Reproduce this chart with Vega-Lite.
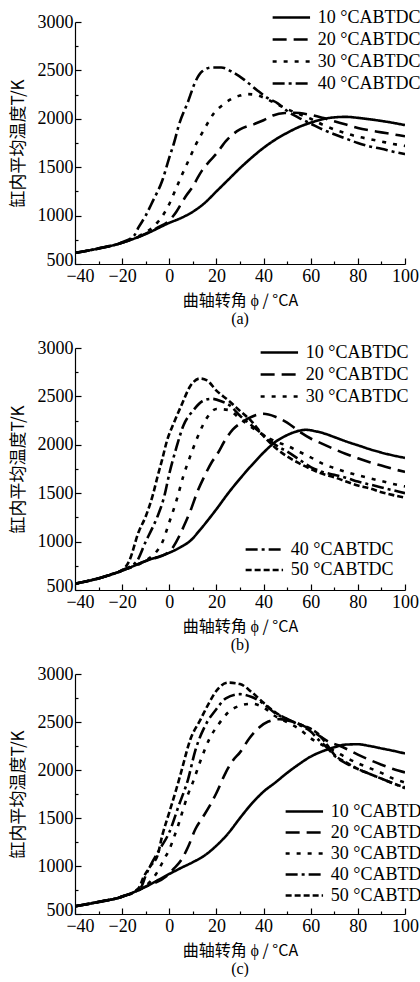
{
"$schema": "https://vega.github.io/schema/vega-lite/v6.json",
"padding": {"left": 9, "top": 6, "right": 0, "bottom": 0},
"config": {
  "view": {"stroke": null},
  "axis": {"grid": false, "domainColor": "black", "tickColor": "black", "labelColor": "black", "titleColor": "black", "domainWidth": 1.2, "tickWidth": 1.2,
    "labelFont": "Liberation Serif", "labelFontSize": 18, "titleFont": "Noto Sans CJK SC", "titleFontSize": 17, "titleFontWeight": "normal", "labelFlush": false, "labelOverlap": false},
  "axisX": {"labelOffset": {"condition": {"test": "datum.value == -40", "value": 5}, "value": 0}, "titleFontSize": 16, "titlePadding": 4},
  "axisY": {"labelOffset": {"condition": {"test": "datum.value == 500", "value": -4}, "value": 0}},
  "legend": {"orient": "none", "title": null, "symbolType": "M-3,0H1", "symbolSize": 350, "symbolStrokeWidth": 2.6, "symbolStrokeColor": "black",
    "labelFont": "Liberation Serif", "labelFontSize": 18, "labelColor": "black", "rowPadding": 2, "labelOffset": 6, "padding": 0, "labelLimit": 300},
  "title": {"font": "Liberation Serif", "fontSize": 16, "fontWeight": "normal", "color": "black", "orient": "bottom", "offset": 3}
},
"datasets": {"d": [
{"p":"a","c":"10°CABTDC","x":-40,"T":615},{"p":"a","c":"10°CABTDC","x":-30,"T":660},{"p":"a","c":"10°CABTDC","x":-20,"T":720},{"p":"a","c":"10°CABTDC","x":-10,"T":810},{"p":"a","c":"10°CABTDC","x":0,"T":925},{"p":"a","c":"10°CABTDC","x":5,"T":975},{"p":"a","c":"10°CABTDC","x":10,"T":1040},{"p":"a","c":"10°CABTDC","x":15,"T":1130},{"p":"a","c":"10°CABTDC","x":20,"T":1250},{"p":"a","c":"10°CABTDC","x":25,"T":1370},{"p":"a","c":"10°CABTDC","x":30,"T":1490},{"p":"a","c":"10°CABTDC","x":35,"T":1600},{"p":"a","c":"10°CABTDC","x":40,"T":1700},{"p":"a","c":"10°CABTDC","x":45,"T":1785},{"p":"a","c":"10°CABTDC","x":50,"T":1855},{"p":"a","c":"10°CABTDC","x":55,"T":1915},{"p":"a","c":"10°CABTDC","x":60,"T":1960},{"p":"a","c":"10°CABTDC","x":65,"T":1995},{"p":"a","c":"10°CABTDC","x":70,"T":2015},{"p":"a","c":"10°CABTDC","x":75,"T":2020},{"p":"a","c":"10°CABTDC","x":80,"T":2010},{"p":"a","c":"10°CABTDC","x":85,"T":1995},{"p":"a","c":"10°CABTDC","x":90,"T":1978},{"p":"a","c":"10°CABTDC","x":95,"T":1958},{"p":"a","c":"10°CABTDC","x":100,"T":1935},
{"p":"a","c":"20°CABTDC","x":-40,"T":615},{"p":"a","c":"20°CABTDC","x":-30,"T":660},{"p":"a","c":"20°CABTDC","x":-20,"T":720},{"p":"a","c":"20°CABTDC","x":-10,"T":812},{"p":"a","c":"20°CABTDC","x":-5,"T":875},{"p":"a","c":"20°CABTDC","x":0,"T":950},{"p":"a","c":"20°CABTDC","x":3,"T":1040},{"p":"a","c":"20°CABTDC","x":5,"T":1120},{"p":"a","c":"20°CABTDC","x":7,"T":1200},{"p":"a","c":"20°CABTDC","x":10,"T":1300},{"p":"a","c":"20°CABTDC","x":12,"T":1390},{"p":"a","c":"20°CABTDC","x":14,"T":1470},{"p":"a","c":"20°CABTDC","x":17,"T":1560},{"p":"a","c":"20°CABTDC","x":20,"T":1640},{"p":"a","c":"20°CABTDC","x":24,"T":1770},{"p":"a","c":"20°CABTDC","x":27,"T":1840},{"p":"a","c":"20°CABTDC","x":30,"T":1890},{"p":"a","c":"20°CABTDC","x":36,"T":1945},{"p":"a","c":"20°CABTDC","x":40,"T":1985},{"p":"a","c":"20°CABTDC","x":44,"T":2035},{"p":"a","c":"20°CABTDC","x":49,"T":2060},{"p":"a","c":"20°CABTDC","x":53,"T":2062},{"p":"a","c":"20°CABTDC","x":59,"T":2045},{"p":"a","c":"20°CABTDC","x":65,"T":2010},{"p":"a","c":"20°CABTDC","x":70,"T":1975},{"p":"a","c":"20°CABTDC","x":75,"T":1940},{"p":"a","c":"20°CABTDC","x":80,"T":1905},{"p":"a","c":"20°CABTDC","x":85,"T":1880},{"p":"a","c":"20°CABTDC","x":90,"T":1860},{"p":"a","c":"20°CABTDC","x":95,"T":1840},{"p":"a","c":"20°CABTDC","x":100,"T":1820},
{"p":"a","c":"30°CABTDC","x":-40,"T":615},{"p":"a","c":"30°CABTDC","x":-30,"T":660},{"p":"a","c":"30°CABTDC","x":-20,"T":720},{"p":"a","c":"30°CABTDC","x":-12,"T":800},{"p":"a","c":"30°CABTDC","x":-8,"T":860},{"p":"a","c":"30°CABTDC","x":-5,"T":930},{"p":"a","c":"30°CABTDC","x":-2,"T":1030},{"p":"a","c":"30°CABTDC","x":0,"T":1120},{"p":"a","c":"30°CABTDC","x":2,"T":1230},{"p":"a","c":"30°CABTDC","x":5,"T":1400},{"p":"a","c":"30°CABTDC","x":8,"T":1560},{"p":"a","c":"30°CABTDC","x":11,"T":1720},{"p":"a","c":"30°CABTDC","x":15,"T":1900},{"p":"a","c":"30°CABTDC","x":19,"T":2060},{"p":"a","c":"30°CABTDC","x":23,"T":2150},{"p":"a","c":"30°CABTDC","x":26,"T":2200},{"p":"a","c":"30°CABTDC","x":30,"T":2240},{"p":"a","c":"30°CABTDC","x":33,"T":2255},{"p":"a","c":"30°CABTDC","x":36,"T":2250},{"p":"a","c":"30°CABTDC","x":40,"T":2220},{"p":"a","c":"30°CABTDC","x":45,"T":2160},{"p":"a","c":"30°CABTDC","x":50,"T":2100},{"p":"a","c":"30°CABTDC","x":55,"T":2050},{"p":"a","c":"30°CABTDC","x":60,"T":2000},{"p":"a","c":"30°CABTDC","x":65,"T":1940},{"p":"a","c":"30°CABTDC","x":70,"T":1890},{"p":"a","c":"30°CABTDC","x":75,"T":1850},{"p":"a","c":"30°CABTDC","x":80,"T":1815},{"p":"a","c":"30°CABTDC","x":85,"T":1790},{"p":"a","c":"30°CABTDC","x":90,"T":1765},{"p":"a","c":"30°CABTDC","x":95,"T":1740},{"p":"a","c":"30°CABTDC","x":100,"T":1720},
{"p":"a","c":"40°CABTDC","x":-40,"T":615},{"p":"a","c":"40°CABTDC","x":-30,"T":662},{"p":"a","c":"40°CABTDC","x":-20,"T":725},{"p":"a","c":"40°CABTDC","x":-15,"T":790},{"p":"a","c":"40°CABTDC","x":-13,"T":880},{"p":"a","c":"40°CABTDC","x":-10,"T":1000},{"p":"a","c":"40°CABTDC","x":-7,"T":1150},{"p":"a","c":"40°CABTDC","x":-3,"T":1360},{"p":"a","c":"40°CABTDC","x":0,"T":1600},{"p":"a","c":"40°CABTDC","x":2,"T":1750},{"p":"a","c":"40°CABTDC","x":4,"T":1930},{"p":"a","c":"40°CABTDC","x":8,"T":2180},{"p":"a","c":"40°CABTDC","x":11,"T":2380},{"p":"a","c":"40°CABTDC","x":14,"T":2490},{"p":"a","c":"40°CABTDC","x":18,"T":2530},{"p":"a","c":"40°CABTDC","x":22,"T":2530},{"p":"a","c":"40°CABTDC","x":27,"T":2480},{"p":"a","c":"40°CABTDC","x":32,"T":2400},{"p":"a","c":"40°CABTDC","x":37,"T":2300},{"p":"a","c":"40°CABTDC","x":42,"T":2210},{"p":"a","c":"40°CABTDC","x":46,"T":2160},{"p":"a","c":"40°CABTDC","x":50,"T":2080},{"p":"a","c":"40°CABTDC","x":55,"T":2010},{"p":"a","c":"40°CABTDC","x":60,"T":1950},{"p":"a","c":"40°CABTDC","x":65,"T":1890},{"p":"a","c":"40°CABTDC","x":70,"T":1840},{"p":"a","c":"40°CABTDC","x":75,"T":1795},{"p":"a","c":"40°CABTDC","x":80,"T":1750},{"p":"a","c":"40°CABTDC","x":85,"T":1715},{"p":"a","c":"40°CABTDC","x":90,"T":1690},{"p":"a","c":"40°CABTDC","x":95,"T":1660},{"p":"a","c":"40°CABTDC","x":100,"T":1635},

{"p":"b","c":"10°CABTDC","x":-40,"T":565},{"p":"b","c":"10°CABTDC","x":-30,"T":620},{"p":"b","c":"10°CABTDC","x":-20,"T":700},{"p":"b","c":"10°CABTDC","x":-10,"T":800},{"p":"b","c":"10°CABTDC","x":0,"T":885},{"p":"b","c":"10°CABTDC","x":5,"T":945},{"p":"b","c":"10°CABTDC","x":9,"T":1010},{"p":"b","c":"10°CABTDC","x":13,"T":1120},{"p":"b","c":"10°CABTDC","x":17,"T":1240},{"p":"b","c":"10°CABTDC","x":20,"T":1335},{"p":"b","c":"10°CABTDC","x":25,"T":1500},{"p":"b","c":"10°CABTDC","x":30,"T":1650},{"p":"b","c":"10°CABTDC","x":35,"T":1790},{"p":"b","c":"10°CABTDC","x":40,"T":1920},{"p":"b","c":"10°CABTDC","x":45,"T":2030},{"p":"b","c":"10°CABTDC","x":50,"T":2100},{"p":"b","c":"10°CABTDC","x":55,"T":2145},{"p":"b","c":"10°CABTDC","x":58,"T":2155},{"p":"b","c":"10°CABTDC","x":62,"T":2140},{"p":"b","c":"10°CABTDC","x":66,"T":2115},{"p":"b","c":"10°CABTDC","x":70,"T":2080},{"p":"b","c":"10°CABTDC","x":75,"T":2035},{"p":"b","c":"10°CABTDC","x":80,"T":1995},{"p":"b","c":"10°CABTDC","x":85,"T":1955},{"p":"b","c":"10°CABTDC","x":90,"T":1920},{"p":"b","c":"10°CABTDC","x":95,"T":1890},{"p":"b","c":"10°CABTDC","x":100,"T":1865},
{"p":"b","c":"20°CABTDC","x":-40,"T":565},{"p":"b","c":"20°CABTDC","x":-30,"T":620},{"p":"b","c":"20°CABTDC","x":-20,"T":700},{"p":"b","c":"20°CABTDC","x":-10,"T":800},{"p":"b","c":"20°CABTDC","x":0,"T":895},{"p":"b","c":"20°CABTDC","x":3,"T":1000},{"p":"b","c":"20°CABTDC","x":6,"T":1150},{"p":"b","c":"20°CABTDC","x":9,"T":1320},{"p":"b","c":"20°CABTDC","x":12,"T":1520},{"p":"b","c":"20°CABTDC","x":15,"T":1680},{"p":"b","c":"20°CABTDC","x":18,"T":1820},{"p":"b","c":"20°CABTDC","x":20,"T":1890},{"p":"b","c":"20°CABTDC","x":24,"T":2060},{"p":"b","c":"20°CABTDC","x":27,"T":2160},{"p":"b","c":"20°CABTDC","x":30,"T":2220},{"p":"b","c":"20°CABTDC","x":35,"T":2290},{"p":"b","c":"20°CABTDC","x":40,"T":2320},{"p":"b","c":"20°CABTDC","x":45,"T":2290},{"p":"b","c":"20°CABTDC","x":50,"T":2230},{"p":"b","c":"20°CABTDC","x":55,"T":2140},{"p":"b","c":"20°CABTDC","x":60,"T":2065},{"p":"b","c":"20°CABTDC","x":65,"T":2010},{"p":"b","c":"20°CABTDC","x":70,"T":1955},{"p":"b","c":"20°CABTDC","x":75,"T":1905},{"p":"b","c":"20°CABTDC","x":80,"T":1860},{"p":"b","c":"20°CABTDC","x":85,"T":1820},{"p":"b","c":"20°CABTDC","x":90,"T":1785},{"p":"b","c":"20°CABTDC","x":95,"T":1750},{"p":"b","c":"20°CABTDC","x":100,"T":1720},
{"p":"b","c":"30°CABTDC","x":-40,"T":565},{"p":"b","c":"30°CABTDC","x":-30,"T":620},{"p":"b","c":"30°CABTDC","x":-20,"T":700},{"p":"b","c":"30°CABTDC","x":-10,"T":805},{"p":"b","c":"30°CABTDC","x":-6,"T":880},{"p":"b","c":"30°CABTDC","x":-3,"T":990},{"p":"b","c":"30°CABTDC","x":0,"T":1200},{"p":"b","c":"30°CABTDC","x":3,"T":1420},{"p":"b","c":"30°CABTDC","x":6,"T":1680},{"p":"b","c":"30°CABTDC","x":9,"T":1890},{"p":"b","c":"30°CABTDC","x":12,"T":2080},{"p":"b","c":"30°CABTDC","x":16,"T":2280},{"p":"b","c":"30°CABTDC","x":20,"T":2370},{"p":"b","c":"30°CABTDC","x":25,"T":2360},{"p":"b","c":"30°CABTDC","x":30,"T":2270},{"p":"b","c":"30°CABTDC","x":35,"T":2180},{"p":"b","c":"30°CABTDC","x":40,"T":2100},{"p":"b","c":"30°CABTDC","x":45,"T":2035},{"p":"b","c":"30°CABTDC","x":50,"T":1990},{"p":"b","c":"30°CABTDC","x":55,"T":1930},{"p":"b","c":"30°CABTDC","x":60,"T":1870},{"p":"b","c":"30°CABTDC","x":65,"T":1805},{"p":"b","c":"30°CABTDC","x":70,"T":1760},{"p":"b","c":"30°CABTDC","x":75,"T":1720},{"p":"b","c":"30°CABTDC","x":80,"T":1685},{"p":"b","c":"30°CABTDC","x":85,"T":1655},{"p":"b","c":"30°CABTDC","x":90,"T":1625},{"p":"b","c":"30°CABTDC","x":95,"T":1595},{"p":"b","c":"30°CABTDC","x":100,"T":1570},
{"p":"b","c":"40°CABTDC","x":-40,"T":565},{"p":"b","c":"40°CABTDC","x":-30,"T":622},{"p":"b","c":"40°CABTDC","x":-20,"T":705},{"p":"b","c":"40°CABTDC","x":-14,"T":790},{"p":"b","c":"40°CABTDC","x":-10,"T":1000},{"p":"b","c":"40°CABTDC","x":-7,"T":1150},{"p":"b","c":"40°CABTDC","x":-5,"T":1260},{"p":"b","c":"40°CABTDC","x":-2,"T":1480},{"p":"b","c":"40°CABTDC","x":0,"T":1700},{"p":"b","c":"40°CABTDC","x":3,"T":1970},{"p":"b","c":"40°CABTDC","x":6,"T":2200},{"p":"b","c":"40°CABTDC","x":10,"T":2350},{"p":"b","c":"40°CABTDC","x":14,"T":2450},{"p":"b","c":"40°CABTDC","x":18,"T":2475},{"p":"b","c":"40°CABTDC","x":22,"T":2450},{"p":"b","c":"40°CABTDC","x":26,"T":2400},{"p":"b","c":"40°CABTDC","x":30,"T":2300},{"p":"b","c":"40°CABTDC","x":35,"T":2200},{"p":"b","c":"40°CABTDC","x":40,"T":2100},{"p":"b","c":"40°CABTDC","x":45,"T":2000},{"p":"b","c":"40°CABTDC","x":50,"T":1930},{"p":"b","c":"40°CABTDC","x":55,"T":1850},{"p":"b","c":"40°CABTDC","x":60,"T":1770},{"p":"b","c":"40°CABTDC","x":65,"T":1720},{"p":"b","c":"40°CABTDC","x":70,"T":1690},{"p":"b","c":"40°CABTDC","x":75,"T":1660},{"p":"b","c":"40°CABTDC","x":80,"T":1620},{"p":"b","c":"40°CABTDC","x":85,"T":1590},{"p":"b","c":"40°CABTDC","x":90,"T":1560},{"p":"b","c":"40°CABTDC","x":95,"T":1530},{"p":"b","c":"40°CABTDC","x":100,"T":1500},
{"p":"b","c":"50°CABTDC","x":-40,"T":565},{"p":"b","c":"50°CABTDC","x":-30,"T":622},{"p":"b","c":"50°CABTDC","x":-25,"T":660},{"p":"b","c":"50°CABTDC","x":-20,"T":705},{"p":"b","c":"50°CABTDC","x":-17,"T":800},{"p":"b","c":"50°CABTDC","x":-13,"T":1100},{"p":"b","c":"50°CABTDC","x":-10,"T":1260},{"p":"b","c":"50°CABTDC","x":-7,"T":1480},{"p":"b","c":"50°CABTDC","x":-5,"T":1670},{"p":"b","c":"50°CABTDC","x":-3,"T":1850},{"p":"b","c":"50°CABTDC","x":-1,"T":2040},{"p":"b","c":"50°CABTDC","x":2,"T":2230},{"p":"b","c":"50°CABTDC","x":5,"T":2400},{"p":"b","c":"50°CABTDC","x":9,"T":2610},{"p":"b","c":"50°CABTDC","x":13,"T":2685},{"p":"b","c":"50°CABTDC","x":16,"T":2665},{"p":"b","c":"50°CABTDC","x":20,"T":2560},{"p":"b","c":"50°CABTDC","x":25,"T":2460},{"p":"b","c":"50°CABTDC","x":30,"T":2350},{"p":"b","c":"50°CABTDC","x":35,"T":2240},{"p":"b","c":"50°CABTDC","x":40,"T":2090},{"p":"b","c":"50°CABTDC","x":45,"T":1970},{"p":"b","c":"50°CABTDC","x":50,"T":1880},{"p":"b","c":"50°CABTDC","x":55,"T":1810},{"p":"b","c":"50°CABTDC","x":60,"T":1750},{"p":"b","c":"50°CABTDC","x":65,"T":1700},{"p":"b","c":"50°CABTDC","x":70,"T":1665},{"p":"b","c":"50°CABTDC","x":75,"T":1620},{"p":"b","c":"50°CABTDC","x":80,"T":1580},{"p":"b","c":"50°CABTDC","x":85,"T":1550},{"p":"b","c":"50°CABTDC","x":90,"T":1510},{"p":"b","c":"50°CABTDC","x":95,"T":1480},{"p":"b","c":"50°CABTDC","x":100,"T":1455},

{"p":"c","c":"10°CABTDC","x":-40,"T":580},{"p":"c","c":"10°CABTDC","x":-30,"T":625},{"p":"c","c":"10°CABTDC","x":-20,"T":680},{"p":"c","c":"10°CABTDC","x":-10,"T":785},{"p":"c","c":"10°CABTDC","x":0,"T":917},{"p":"c","c":"10°CABTDC","x":5,"T":980},{"p":"c","c":"10°CABTDC","x":10,"T":1040},{"p":"c","c":"10°CABTDC","x":15,"T":1110},{"p":"c","c":"10°CABTDC","x":20,"T":1212},{"p":"c","c":"10°CABTDC","x":25,"T":1340},{"p":"c","c":"10°CABTDC","x":30,"T":1500},{"p":"c","c":"10°CABTDC","x":35,"T":1650},{"p":"c","c":"10°CABTDC","x":40,"T":1775},{"p":"c","c":"10°CABTDC","x":45,"T":1870},{"p":"c","c":"10°CABTDC","x":50,"T":1970},{"p":"c","c":"10°CABTDC","x":55,"T":2060},{"p":"c","c":"10°CABTDC","x":60,"T":2140},{"p":"c","c":"10°CABTDC","x":65,"T":2195},{"p":"c","c":"10°CABTDC","x":70,"T":2236},{"p":"c","c":"10°CABTDC","x":75,"T":2265},{"p":"c","c":"10°CABTDC","x":80,"T":2268},{"p":"c","c":"10°CABTDC","x":85,"T":2250},{"p":"c","c":"10°CABTDC","x":90,"T":2225},{"p":"c","c":"10°CABTDC","x":95,"T":2200},{"p":"c","c":"10°CABTDC","x":100,"T":2172},
{"p":"c","c":"20°CABTDC","x":-40,"T":580},{"p":"c","c":"20°CABTDC","x":-30,"T":625},{"p":"c","c":"20°CABTDC","x":-20,"T":680},{"p":"c","c":"20°CABTDC","x":-10,"T":785},{"p":"c","c":"20°CABTDC","x":0,"T":920},{"p":"c","c":"20°CABTDC","x":2,"T":975},{"p":"c","c":"20°CABTDC","x":5,"T":1060},{"p":"c","c":"20°CABTDC","x":8,"T":1200},{"p":"c","c":"20°CABTDC","x":11,"T":1380},{"p":"c","c":"20°CABTDC","x":14,"T":1500},{"p":"c","c":"20°CABTDC","x":17,"T":1620},{"p":"c","c":"20°CABTDC","x":20,"T":1760},{"p":"c","c":"20°CABTDC","x":24,"T":1976},{"p":"c","c":"20°CABTDC","x":27,"T":2100},{"p":"c","c":"20°CABTDC","x":30,"T":2184},{"p":"c","c":"20°CABTDC","x":34,"T":2330},{"p":"c","c":"20°CABTDC","x":38,"T":2440},{"p":"c","c":"20°CABTDC","x":42,"T":2505},{"p":"c","c":"20°CABTDC","x":47,"T":2530},{"p":"c","c":"20°CABTDC","x":52,"T":2505},{"p":"c","c":"20°CABTDC","x":56,"T":2470},{"p":"c","c":"20°CABTDC","x":60,"T":2420},{"p":"c","c":"20°CABTDC","x":64,"T":2350},{"p":"c","c":"20°CABTDC","x":68,"T":2290},{"p":"c","c":"20°CABTDC","x":72,"T":2255},{"p":"c","c":"20°CABTDC","x":76,"T":2210},{"p":"c","c":"20°CABTDC","x":80,"T":2160},{"p":"c","c":"20°CABTDC","x":85,"T":2105},{"p":"c","c":"20°CABTDC","x":90,"T":2055},{"p":"c","c":"20°CABTDC","x":95,"T":2010},{"p":"c","c":"20°CABTDC","x":100,"T":1975},
{"p":"c","c":"30°CABTDC","x":-40,"T":580},{"p":"c","c":"30°CABTDC","x":-30,"T":625},{"p":"c","c":"30°CABTDC","x":-20,"T":680},{"p":"c","c":"30°CABTDC","x":-12,"T":760},{"p":"c","c":"30°CABTDC","x":-8,"T":840},{"p":"c","c":"30°CABTDC","x":-5,"T":940},{"p":"c","c":"30°CABTDC","x":-2,"T":1080},{"p":"c","c":"30°CABTDC","x":0,"T":1170},{"p":"c","c":"30°CABTDC","x":2,"T":1300},{"p":"c","c":"30°CABTDC","x":4,"T":1440},{"p":"c","c":"30°CABTDC","x":6,"T":1600},{"p":"c","c":"30°CABTDC","x":8,"T":1750},{"p":"c","c":"30°CABTDC","x":10,"T":1871},{"p":"c","c":"30°CABTDC","x":13,"T":2080},{"p":"c","c":"30°CABTDC","x":17,"T":2323},{"p":"c","c":"30°CABTDC","x":21,"T":2479},{"p":"c","c":"30°CABTDC","x":25,"T":2600},{"p":"c","c":"30°CABTDC","x":30,"T":2670},{"p":"c","c":"30°CABTDC","x":35,"T":2690},{"p":"c","c":"30°CABTDC","x":40,"T":2650},{"p":"c","c":"30°CABTDC","x":45,"T":2560},{"p":"c","c":"30°CABTDC","x":50,"T":2497},{"p":"c","c":"30°CABTDC","x":55,"T":2430},{"p":"c","c":"30°CABTDC","x":60,"T":2330},{"p":"c","c":"30°CABTDC","x":65,"T":2260},{"p":"c","c":"30°CABTDC","x":70,"T":2200},{"p":"c","c":"30°CABTDC","x":75,"T":2130},{"p":"c","c":"30°CABTDC","x":80,"T":2070},{"p":"c","c":"30°CABTDC","x":85,"T":2020},{"p":"c","c":"30°CABTDC","x":90,"T":1970},{"p":"c","c":"30°CABTDC","x":95,"T":1910},{"p":"c","c":"30°CABTDC","x":100,"T":1870},
{"p":"c","c":"40°CABTDC","x":-40,"T":580},{"p":"c","c":"40°CABTDC","x":-30,"T":627},{"p":"c","c":"40°CABTDC","x":-20,"T":682},{"p":"c","c":"40°CABTDC","x":-12,"T":780},{"p":"c","c":"40°CABTDC","x":-10,"T":900},{"p":"c","c":"40°CABTDC","x":-7,"T":1050},{"p":"c","c":"40°CABTDC","x":-4,"T":1177},{"p":"c","c":"40°CABTDC","x":0,"T":1351},{"p":"c","c":"40°CABTDC","x":4,"T":1628},{"p":"c","c":"40°CABTDC","x":8,"T":1906},{"p":"c","c":"40°CABTDC","x":11,"T":2200},{"p":"c","c":"40°CABTDC","x":15,"T":2450},{"p":"c","c":"40°CABTDC","x":20,"T":2635},{"p":"c","c":"40°CABTDC","x":24,"T":2746},{"p":"c","c":"40°CABTDC","x":30,"T":2790},{"p":"c","c":"40°CABTDC","x":35,"T":2760},{"p":"c","c":"40°CABTDC","x":40,"T":2690},{"p":"c","c":"40°CABTDC","x":45,"T":2590},{"p":"c","c":"40°CABTDC","x":50,"T":2531},{"p":"c","c":"40°CABTDC","x":55,"T":2470},{"p":"c","c":"40°CABTDC","x":60,"T":2400},{"p":"c","c":"40°CABTDC","x":63,"T":2323},{"p":"c","c":"40°CABTDC","x":67,"T":2230},{"p":"c","c":"40°CABTDC","x":70,"T":2150},{"p":"c","c":"40°CABTDC","x":75,"T":2070},{"p":"c","c":"40°CABTDC","x":80,"T":2010},{"p":"c","c":"40°CABTDC","x":85,"T":1960},{"p":"c","c":"40°CABTDC","x":90,"T":1910},{"p":"c","c":"40°CABTDC","x":95,"T":1860},{"p":"c","c":"40°CABTDC","x":100,"T":1810},
{"p":"c","c":"50°CABTDC","x":-40,"T":580},{"p":"c","c":"50°CABTDC","x":-30,"T":627},{"p":"c","c":"50°CABTDC","x":-20,"T":682},{"p":"c","c":"50°CABTDC","x":-13,"T":770},{"p":"c","c":"50°CABTDC","x":-11,"T":880},{"p":"c","c":"50°CABTDC","x":-8,"T":1000},{"p":"c","c":"50°CABTDC","x":-5,"T":1108},{"p":"c","c":"50°CABTDC","x":-3,"T":1316},{"p":"c","c":"50°CABTDC","x":0,"T":1559},{"p":"c","c":"50°CABTDC","x":3,"T":1802},{"p":"c","c":"50°CABTDC","x":5,"T":1976},{"p":"c","c":"50°CABTDC","x":9,"T":2323},{"p":"c","c":"50°CABTDC","x":13,"T":2514},{"p":"c","c":"50°CABTDC","x":17,"T":2705},{"p":"c","c":"50°CABTDC","x":20,"T":2826},{"p":"c","c":"50°CABTDC","x":25,"T":2910},{"p":"c","c":"50°CABTDC","x":30,"T":2895},{"p":"c","c":"50°CABTDC","x":35,"T":2810},{"p":"c","c":"50°CABTDC","x":40,"T":2700},{"p":"c","c":"50°CABTDC","x":45,"T":2600},{"p":"c","c":"50°CABTDC","x":50,"T":2530},{"p":"c","c":"50°CABTDC","x":55,"T":2480},{"p":"c","c":"50°CABTDC","x":60,"T":2430},{"p":"c","c":"50°CABTDC","x":63,"T":2380},{"p":"c","c":"50°CABTDC","x":67,"T":2260},{"p":"c","c":"50°CABTDC","x":70,"T":2160},{"p":"c","c":"50°CABTDC","x":75,"T":2080},{"p":"c","c":"50°CABTDC","x":80,"T":2010},{"p":"c","c":"50°CABTDC","x":85,"T":1960},{"p":"c","c":"50°CABTDC","x":90,"T":1910},{"p":"c","c":"50°CABTDC","x":95,"T":1860},{"p":"c","c":"50°CABTDC","x":100,"T":1820}
]},
"spacing": 12,
"resolve": {"scale": {"strokeDash": "independent"}, "legend": {"strokeDash": "independent"}},
"vconcat": [
{
  "width": 330, "height": 242,
  "title": {"text": "(a)"},
  "data": {"name": "d"},
  "transform": [{"filter": "datum.p == 'a'"}],
  "mark": {"type": "line", "color": "black", "strokeWidth": 2.6, "interpolate": "monotone", "clip": true},
  "encoding": {
    "x": {"field": "x", "type": "quantitative", "scale": {"domain": [-40, 100], "nice": false},
      "axis": {"title": "曲轴转角 ϕ / °CA", "values": [-40,-30,-20,-10,0,10,20,30,40,50,60,70,80,90,100], "labelExpr": "datum.value % 20 == 0 ? datum.label : ''", "tickSize": {"condition": {"test": "datum.value % 20 == 0", "value": -6}, "value": -3}, "labelPadding": 9}},
    "y": {"field": "T", "type": "quantitative", "scale": {"domain": [500, 3000], "nice": false},
      "axis": {"title": "缸内平均温度T/K", "format": "d", "values": [500,750,1000,1250,1500,1750,2000,2250,2500,2750,3000], "labelExpr": "datum.value % 500 == 0 ? datum.label : ''", "tickSize": {"condition": {"test": "datum.value % 500 == 0", "value": -6}, "value": -3}, "labelPadding": 8, "titlePadding": 10}},
    "strokeDash": {"field": "c", "type": "nominal",
      "scale": {"domain": ["10°CABTDC","20°CABTDC","30°CABTDC","40°CABTDC"], "range": [[1,0],[14,7],[4,7],[12,4,3,4]]},
      "legend": {"legendX": 214.7, "legendY": -15.5, "labelExpr": "replace(datum.label, '°', ' °')"}}
  }
},
{
  "width": 330, "height": 242,
  "title": {"text": "(b)"},
  "data": {"name": "d"},
  "transform": [{"filter": "datum.p == 'b'"}],
  "encoding": {
    "x": {"field": "x", "type": "quantitative", "scale": {"domain": [-40, 100], "nice": false},
      "axis": {"title": "曲轴转角 ϕ / °CA", "values": [-40,-30,-20,-10,0,10,20,30,40,50,60,70,80,90,100], "labelExpr": "datum.value % 20 == 0 ? datum.label : ''", "tickSize": {"condition": {"test": "datum.value % 20 == 0", "value": -6}, "value": -3}, "labelPadding": 9}},
    "y": {"field": "T", "type": "quantitative", "scale": {"domain": [500, 3000], "nice": false},
      "axis": {"title": "缸内平均温度T/K", "format": "d", "values": [500,750,1000,1250,1500,1750,2000,2250,2500,2750,3000], "labelExpr": "datum.value % 500 == 0 ? datum.label : ''", "tickSize": {"condition": {"test": "datum.value % 500 == 0", "value": -6}, "value": -3}, "labelPadding": 8, "titlePadding": 10}}
  },
  "layer": [
    {
      "transform": [{"filter": {"field": "c", "oneOf": ["10°CABTDC","20°CABTDC","30°CABTDC"]}}],
      "mark": {"type": "line", "color": "black", "strokeWidth": 2.6, "interpolate": "monotone", "clip": true},
      "encoding": {"strokeDash": {"field": "c", "type": "nominal",
        "scale": {"domain": ["10°CABTDC","20°CABTDC","30°CABTDC"], "range": [[1,0],[14,7],[4,7]]},
        "legend": {"legendX": 202.7, "legendY": -6.5, "labelExpr": "replace(datum.label, '°', ' °')"}}}
    },
    {
      "transform": [{"filter": {"field": "c", "oneOf": ["40°CABTDC","50°CABTDC"]}}],
      "mark": {"type": "line", "color": "black", "strokeWidth": 2.6, "interpolate": "monotone", "clip": true},
      "encoding": {"strokeDash": {"field": "c", "type": "nominal",
        "scale": {"domain": ["40°CABTDC","50°CABTDC"], "range": [[12,4,3,4],[6,3]]},
        "legend": {"legendX": 187.7, "legendY": 190.5, "rowPadding": 0.5, "labelExpr": "replace(datum.label, '°', ' °')"}}}
    }
  ],
  "resolve": {"scale": {"strokeDash": "independent"}, "legend": {"strokeDash": "independent"}}
},
{
  "width": 330, "height": 240,
  "title": {"text": "(c)"},
  "data": {"name": "d"},
  "transform": [{"filter": "datum.p == 'c'"}],
  "mark": {"type": "line", "color": "black", "strokeWidth": 2.6, "interpolate": "monotone", "clip": true},
  "encoding": {
    "x": {"field": "x", "type": "quantitative", "scale": {"domain": [-40, 100], "nice": false},
      "axis": {"title": "曲轴转角 ϕ / °CA", "values": [-40,-30,-20,-10,0,10,20,30,40,50,60,70,80,90,100], "labelExpr": "datum.value % 20 == 0 ? datum.label : ''", "tickSize": {"condition": {"test": "datum.value % 20 == 0", "value": -6}, "value": -3}, "labelPadding": 9}},
    "y": {"field": "T", "type": "quantitative", "scale": {"domain": [500, 3000], "nice": false},
      "axis": {"title": "缸内平均温度T/K", "format": "d", "values": [500,750,1000,1250,1500,1750,2000,2250,2500,2750,3000], "labelExpr": "datum.value % 500 == 0 ? datum.label : ''", "tickSize": {"condition": {"test": "datum.value % 500 == 0", "value": -6}, "value": -3}, "labelPadding": 8, "titlePadding": 10}},
    "strokeDash": {"field": "c", "type": "nominal",
      "scale": {"domain": ["10°CABTDC","20°CABTDC","30°CABTDC","40°CABTDC","50°CABTDC"], "range": [[1,0],[14,7],[4,7],[12,4,3,4],[6,3]]},
      "legend": {"legendX": 227.7, "legendY": 126.5, "labelExpr": "replace(replace(datum.label, 'CABTDC', 'CABTD'), '°', ' °')", "rowPadding": 1}}
  }
}
]
}
